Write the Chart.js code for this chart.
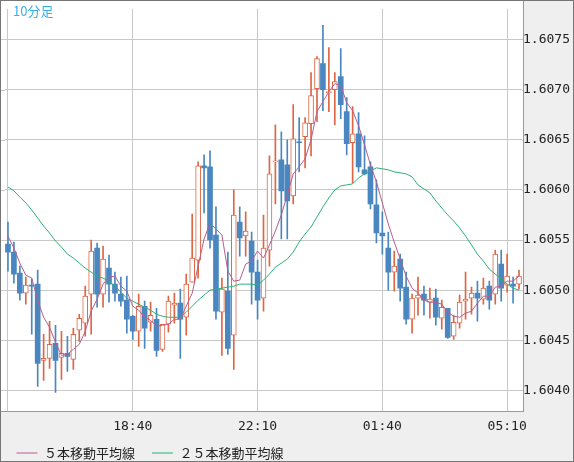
<!DOCTYPE html>
<html>
<head>
<meta charset="utf-8">
<script src="https://cdn.jsdelivr.net/npm/chart.js@4.4.1/dist/chart.umd.min.js"></script>
<style>
  html, body { margin: 0; padding: 0; background: #efefef; }
</style>
</head>
<body>
<canvas id="myChart" width="574" height="462"></canvas>
<script>
// 10 minute bars, 15:10 -> 05:30
const times = [
  '15:10','15:20','15:30','15:40','15:50',
  '16:00','16:10','16:20','16:30','16:40','16:50',
  '17:00','17:10','17:20','17:30','17:40','17:50',
  '18:00','18:10','18:20','18:30','18:40','18:50',
  '19:00','19:10','19:20','19:30','19:40','19:50',
  '20:00','20:10','20:20','20:30','20:40','20:50',
  '21:00','21:10','21:20','21:30','21:40','21:50',
  '22:00','22:10','22:20','22:30','22:40','22:50',
  '23:00','23:10','23:20','23:30','23:40','23:50',
  '00:00','00:10','00:20','00:30','00:40','00:50',
  '01:00','01:10','01:20','01:30','01:40','01:50',
  '02:00','02:10','02:20','02:30','02:40','02:50',
  '03:00','03:10','03:20','03:30','03:40','03:50',
  '04:00','04:10','04:20','04:30','04:40','04:50',
  '05:00','05:10','05:20','05:30'
];
const tickLabels = ['18:40', '22:10', '01:40', '05:10'];

const open = [
  1.60546,1.60538,1.60517,1.60497,1.60505,1.60506,1.60430,1.60432,1.60447,1.60433,
  1.60437,1.60431,1.60460,1.60467,1.60496,1.60542,1.60496,1.60522,1.60506,1.60496,
  1.60490,1.60474,1.60459,1.60484,1.60468,1.60471,1.60441,1.60466,1.60485,1.60487,
  1.60473,1.60508,1.60530,1.60624,1.60623,1.60555,1.60478,1.60499,1.60455,1.60568,
  1.60554,1.60549,1.60518,1.60492,1.60540,1.60628,1.60630,1.60625,1.60594,1.60648,
  1.60653,1.60666,1.60701,1.60726,1.60697,1.60700,1.60713,1.60678,1.60647,1.60656,
  1.60620,1.60623,1.60585,1.60557,1.60542,1.60518,1.60531,1.60503,1.60471,1.60492,
  1.60496,1.60488,1.60492,1.60472,1.60482,1.60454,1.60467,1.60489,1.60492,1.60497,
  1.60491,1.60504,1.60496,1.60526,1.60505,1.60506,1.60506
];
const high = [
  1.60568,1.60548,1.60524,1.60513,1.60511,1.60520,1.60456,1.60469,1.60465,1.60459,
  1.60454,1.60462,1.60476,1.60504,1.60550,1.60547,1.60544,1.60535,1.60518,1.60513,
  1.60514,1.60475,1.60496,1.60489,1.60488,1.60482,1.60466,1.60494,1.60497,1.60501,
  1.60516,1.60576,1.60628,1.60635,1.60639,1.60583,1.60512,1.60538,1.60600,1.60583,
  1.60578,1.60558,1.60530,1.60575,1.60634,1.60665,1.60658,1.60650,1.60685,1.60672,
  1.60672,1.60717,1.60733,1.60764,1.60742,1.60717,1.60741,1.60692,1.60683,1.60677,
  1.60654,1.60628,1.60610,1.60578,1.60558,1.60539,1.60536,1.60518,1.60496,1.60513,
  1.60504,1.60502,1.60501,1.60490,1.60482,1.60475,1.60495,1.60518,1.60503,1.60509,
  1.60512,1.60509,1.60540,1.60540,1.60536,1.60513,1.60520
];
const low = [
  1.60519,1.60507,1.60490,1.60486,1.60456,1.60404,1.60410,1.60422,1.60398,1.60411,
  1.60419,1.60421,1.60449,1.60454,1.60456,1.60483,1.60483,1.60488,1.60489,1.60484,
  1.60457,1.60451,1.60444,1.60442,1.60459,1.60434,1.60439,1.60458,1.60467,1.60432,
  1.60455,1.60508,1.60512,1.60577,1.60542,1.60471,1.60435,1.60436,1.60421,1.60534,
  1.60534,1.60486,1.60471,1.60479,1.60524,1.60586,1.60551,1.60551,1.60586,1.60618,
  1.60622,1.60634,1.60668,1.60679,1.60678,1.60665,1.60671,1.60635,1.60607,1.60618,
  1.60615,1.60581,1.60547,1.60536,1.60500,1.60499,1.60489,1.60466,1.60457,1.60475,
  1.60475,1.60472,1.60465,1.60461,1.60452,1.60451,1.60462,1.60471,1.60476,1.60469,
  1.60486,1.60481,1.60486,1.60489,1.60498,1.60487,1.60501
];
const close = [
  1.60538,1.60516,1.60497,1.60505,1.60504,1.60427,1.60432,1.60446,1.60430,1.60437,
  1.60434,1.60456,1.60472,1.60494,1.60539,1.60496,1.60531,1.60506,1.60497,1.60489,
  1.60471,1.60459,1.60484,1.60462,1.60475,1.60440,1.60466,1.60489,1.60487,1.60471,
  1.60506,1.60532,1.60624,1.60622,1.60550,1.60479,1.60501,1.60442,1.60575,1.60552,
  1.60559,1.60518,1.60490,1.60542,1.60616,1.60629,1.60599,1.60589,1.60651,1.60647,
  1.60667,1.60694,1.60731,1.60700,1.60698,1.60708,1.60685,1.60646,1.60656,1.60623,
  1.60616,1.60586,1.60557,1.60554,1.60518,1.60524,1.60502,1.60471,1.60492,1.60495,
  1.60490,1.60491,1.60473,1.60483,1.60453,1.60468,1.60488,1.60491,1.60497,1.60492,
  1.60502,1.60490,1.60536,1.60502,1.60514,1.60504,1.60514
];
// moving averages
const ma5 = [
  1.60554,1.60542,1.60527,1.60515,1.60512,1.60490,1.60473,1.60463,1.60448,1.60435,
  1.60436,1.60441,1.60446,1.60459,1.60479,1.60491,1.60506,1.60513,1.60514,1.60504,
  1.60499,1.60484,1.60480,1.60473,1.60470,1.60464,1.60465,1.60466,1.60471,1.60471,
  1.60484,1.60497,1.60524,1.60551,1.60567,1.60561,1.60555,1.60519,1.60509,1.60510,
  1.60526,1.60529,1.60539,1.60532,1.60545,1.60559,1.60575,1.60595,1.60616,1.60623,
  1.60631,1.60650,1.60678,1.60688,1.60698,1.60706,1.60704,1.60687,1.60679,1.60664,
  1.60645,1.60625,1.60608,1.60587,1.60566,1.60548,1.60531,1.60514,1.60502,1.60497,
  1.60490,1.60488,1.60488,1.60486,1.60478,1.60474,1.60473,1.60477,1.60479,1.60487,
  1.60494,1.60494,1.60503,1.60504,1.60509,1.60509,1.60514
];
const ma25 = [
  1.60603,1.60599,1.60593,1.60587,1.60580,1.60572,1.60564,1.60557,1.60549,1.60543,
  1.60536,1.60532,1.60527,1.60522,1.60518,1.60514,1.60512,1.60509,1.60504,1.60498,
  1.60492,1.60489,1.60486,1.60483,1.60480,1.60476,1.60474,1.60473,1.60473,1.60473,
  1.60478,1.60484,1.60490,1.60495,1.60500,1.60501,1.60502,1.60503,1.60504,1.60506,
  1.60506,1.60506,1.60505,1.60510,1.60516,1.60523,1.60527,1.60531,1.60538,1.60548,
  1.60556,1.60563,1.60573,1.60583,1.60592,1.60600,1.60604,1.60605,1.60606,1.60612,
  1.60616,1.60619,1.60622,1.60621,1.60620,1.60618,1.60617,1.60616,1.60613,1.60605,
  1.60601,1.60597,1.60589,1.60582,1.60575,1.60569,1.60562,1.60554,1.60545,1.60536,
  1.60529,1.60521,1.60516,1.60511,1.60506,1.60502,1.60500
];

const UP = '#dd6644';
const DOWN = '#4a87c0';
const up = close.map((c, i) => c >= open[i]);

// frame, white plot, left/right stubs of the price grid, "10分足"
const frame = {
  id: 'frame',
  beforeDraw(chart) {
    const c = chart.ctx;
    c.save();
    c.fillStyle = '#efefef';
    c.fillRect(0, 0, chart.width, chart.height);
    c.fillStyle = '#ffffff';
    c.fillRect(1, 1, 523, 411);
    c.restore();
  },
  beforeDatasetsDraw(chart) {
    const c = chart.ctx;
    const a = chart.chartArea;
    const y = chart.scales.y;
    c.save();
    c.strokeStyle = '#c8c8c8';
    c.lineWidth = 1;
    y.ticks.forEach(t => {
      const py = Math.round(y.getPixelForValue(t.value)) + 0.5;
      c.beginPath();
      c.moveTo(1, py); c.lineTo(a.left, py);
      c.moveTo(a.right, py); c.lineTo(523, py);
      c.stroke();
    });
    c.restore();
  },
  afterDraw(chart) {
    const c = chart.ctx;
    c.save();
    c.lineWidth = 1;
    c.strokeStyle = '#9a9a9a';
    c.beginPath();
    c.moveTo(523.5, 0); c.lineTo(523.5, 412);
    c.moveTo(0, 411.5); c.lineTo(524, 411.5);
    c.stroke();
    c.strokeStyle = '#767676';
    c.strokeRect(0.5, 0.5, chart.width - 1, chart.height - 1);
    c.fillStyle = '#3aaee8';
    c.font = '13px "Noto Sans CJK JP"';
    c.textBaseline = 'middle';
    c.fillText('10分足', 13, 11);
    c.restore();
  },
  afterLayout(chart) {
    chart.legend.left -= 5.5;
    chart.legend.top -= 6.5;
  }
};

const ctx = document.getElementById('myChart');

new Chart(ctx, {
  type: 'bar',
  data: {
    labels: times,
    datasets: [
      {
        type: 'line',
        label: '５本移動平均線',
        data: ma5,
        borderColor: '#b85e8e',
        borderWidth: 1,
        pointRadius: 0,
        order: 0
      },
      {
        type: 'line',
        label: '２５本移動平均線',
        data: ma25,
        borderColor: '#2bb277',
        borderWidth: 1,
        pointRadius: 0,
        order: 1
      },
      {
        label: 'body',
        data: open.map((o, i) => [o, close[i]]),
        backgroundColor: up.map(u => u ? '#ffffff' : DOWN),
        borderColor: up.map(u => u ? UP : DOWN),
        borderWidth: up.map(u => u ? 1 : 0),
        borderSkipped: false,
        barThickness: 5,
        grouped: false,
        order: 2
      },
      {
        label: 'wick',
        data: low.map((l, i) => [l, high[i]]),
        backgroundColor: up.map(u => u ? UP : DOWN),
        barThickness: 1,
        grouped: false,
        order: 3
      }
    ]
  },
  plugins: [frame],
  options: {
    responsive: false,
    animation: false,
    layout: { padding: { left: 5, top: 1, right: 0, bottom: 0 } },
    plugins: {
      legend: {
        position: 'bottom',
        align: 'start',
        maxHeight: 26,
        labels: {
          filter: item => item.datasetIndex < 2,
          usePointStyle: true,
          pointStyle: 'line',
          pointStyleWidth: 21,
          padding: 17,
          color: '#222',
          font: { family: '"Noto Sans CJK JP"', size: 13 }
        }
      },
      tooltip: { enabled: false },
      title: { display: false }
    },
    scales: {
      x: {
        offset: true,
        border: { display: false },
        grid: {
          offset: false,
          drawTicks: false,
          color: c => (c.index % 21 === 0 ? '#c8c8c8' : 'rgba(0,0,0,0)')
        },
        ticks: {
          autoSkip: false,
          maxRotation: 0,
          padding: 7,
          color: '#222',
          font: { family: 'DejaVu Sans Mono', size: 13 },
          callback: function (v, i) {
            const t = this.getLabelForValue(v);
            return tickLabels.includes(t) ? t : '';
          }
        },
        afterFit(s) { s.height = 24; }
      },
      y: {
        position: 'right',
        min: 1.603785,
        max: 1.607806,
        border: { display: false },
        grid: { color: '#c8c8c8', drawTicks: false },
        ticks: {
          stepSize: 0.0005,
          includeBounds: false,
          padding: 1,
          color: '#222',
          font: { family: 'DejaVu Sans Mono', size: 13 },
          callback: v => v.toFixed(4)
        },
        afterFit(s) { s.width = 52; }
      }
    }
  }
});
</script>
</body>
</html>
